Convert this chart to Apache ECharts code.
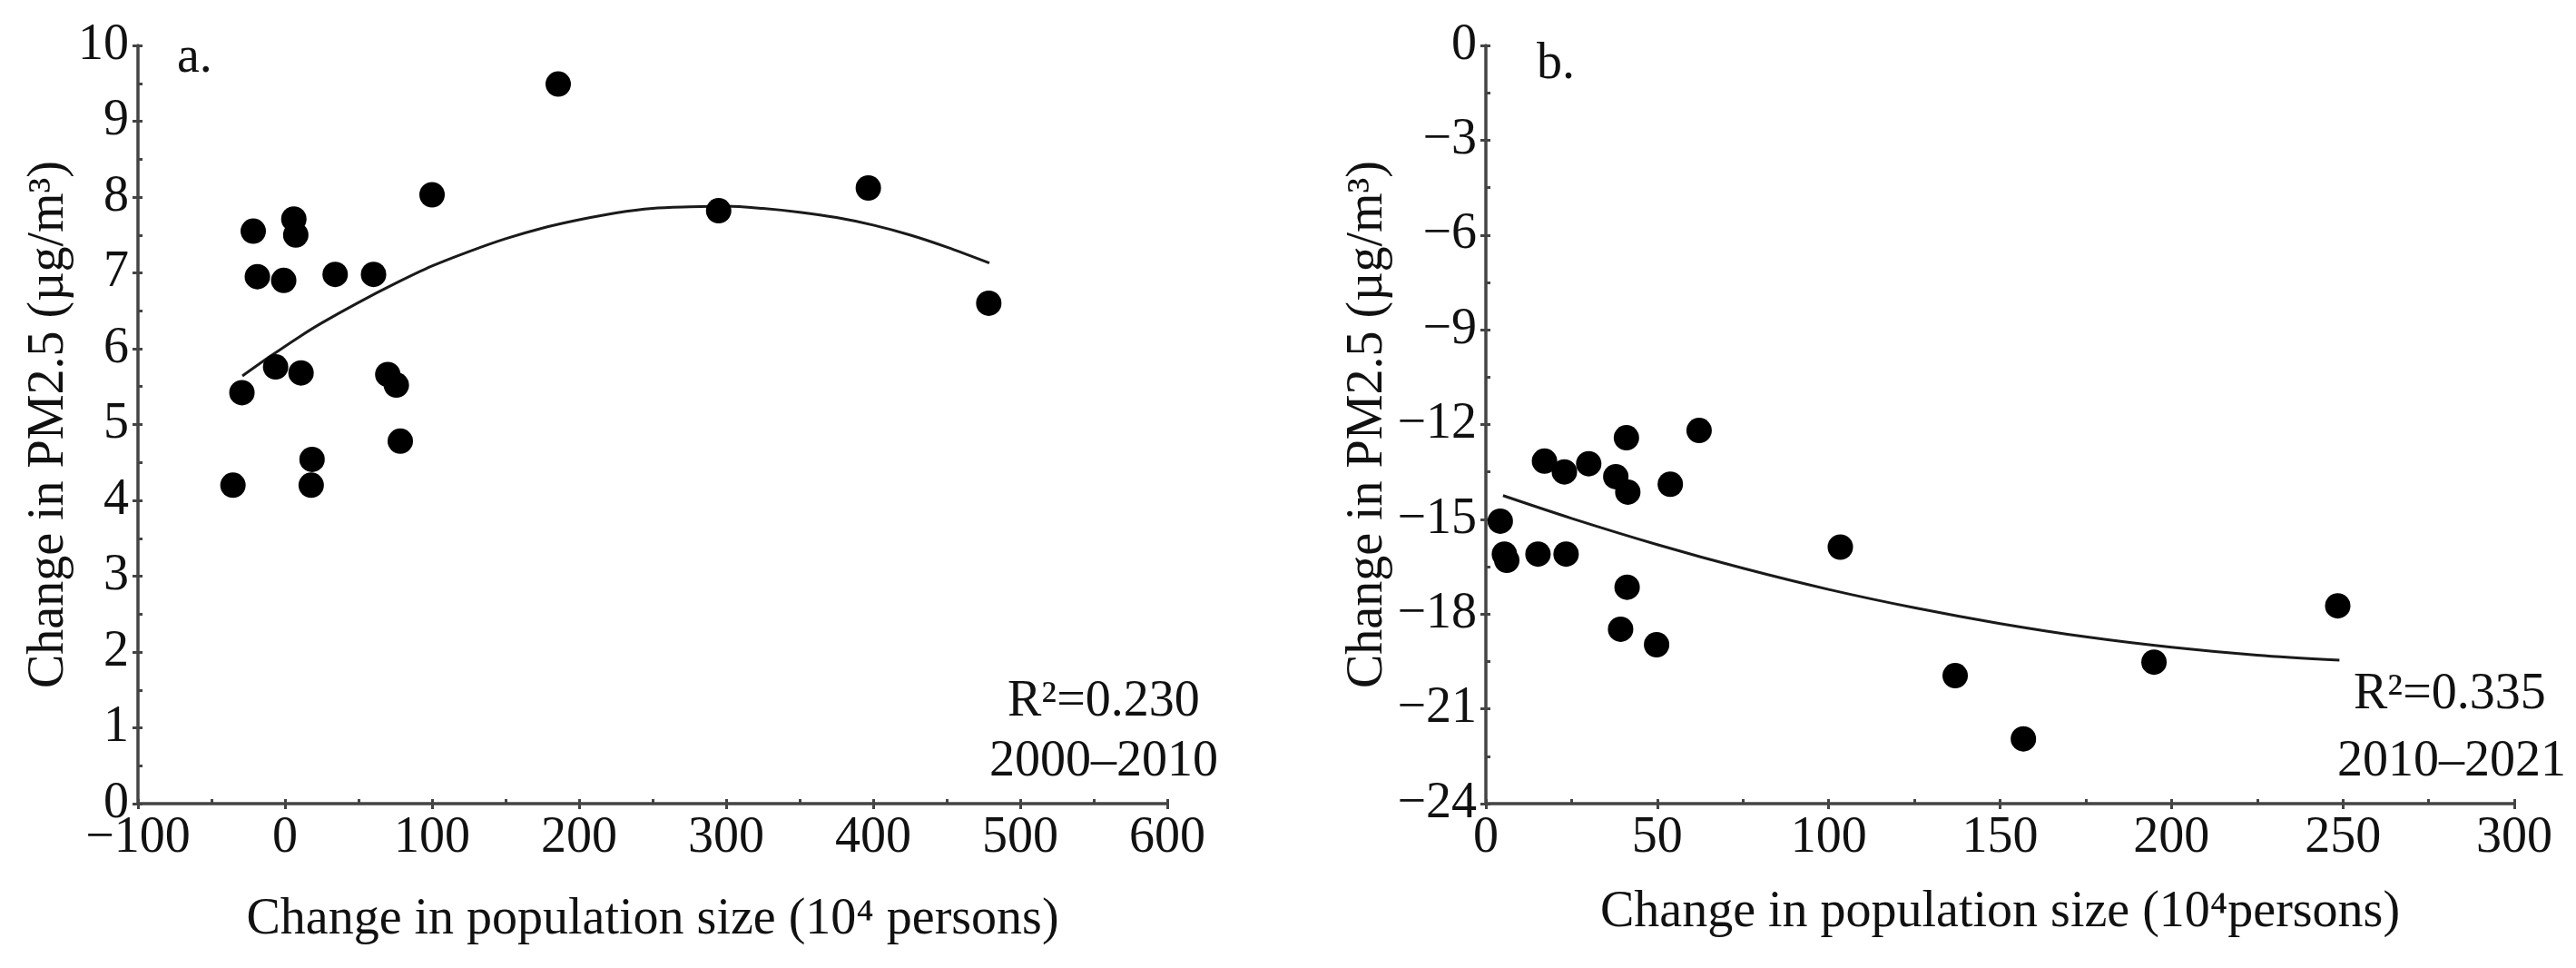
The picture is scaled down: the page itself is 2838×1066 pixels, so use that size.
<!DOCTYPE html>
<html>
<head>
<meta charset="utf-8">
<script src="https://cdn.jsdelivr.net/npm/echarts@6/dist/echarts.min.js"></script>
<style>
  body { margin: 0; background: #fff; }
  #chart { width: 2838px; height: 1066px; }
</style>
</head>
<body>
<div id="chart"></div>
<script>
// Panel a: 2000-2010
const popA = [185.8, 100, -21.6, 6, 7.3, -18.8, -0.9, 34.1, 60.2, -6.4, 10.9, 69.9, 75.7, -29.3, 78.4, 18.4, 17.8, -35.4, 294.9, 396.7, 478.6];
const pmA = [9.49, 8.03, 7.55, 7.71, 7.50, 6.95, 6.90, 6.98, 6.98, 5.76, 5.68, 5.66, 5.52, 5.42, 4.78, 4.54, 4.20, 4.20, 7.82, 8.12, 6.60];
// fitted curve
const fitAx = [-29, -10, 10, 25, 50, 75, 100, 125, 150, 175, 200, 225, 250, 275, 300, 325, 350, 375, 400, 425, 450, 479];
const fitAy = [5.64, 5.90, 6.16, 6.34, 6.61, 6.86, 7.09, 7.28, 7.45, 7.59, 7.70, 7.79, 7.85, 7.87, 7.88, 7.85, 7.80, 7.73, 7.63, 7.50, 7.34, 7.13];

// Panel b: 2010-2021
const popB = [4.2, 5.4, 6.1, 15.2, 17.1, 22.9, 23.4, 30, 37.9, 41, 41.4, 41.2, 39.3, 49.8, 53.8, 62.2, 103.4, 136.9, 156.8, 194.9, 248.5];
const pmB = [-15.06, -16.1, -16.3, -16.1, -13.16, -13.5, -16.1, -13.24, -13.65, -12.42, -14.14, -17.15, -18.48, -18.97, -13.89, -12.19, -15.88, -19.95, -21.95, -19.52, -17.74];
const fitBx = [5, 25, 50, 75, 100, 125, 150, 175, 200, 225, 249];
const fitBy = [-14.25, -14.97, -15.8, -16.55, -17.22, -17.8, -18.3, -18.72, -19.05, -19.3, -19.46];

const notesA = ['R²=0.230', '2000–2010'];
const notesB = ['R²=0.335', '2010–2021'];

const FONT = '"Liberation Serif", "Times New Roman", "DejaVu Serif", serif';
const AXIS_COLOR = '#444';

const zip = (xs, ys) => xs.map((x, i) => [x, ys[i]]);
const minus = v => String(v).replace('-', '−');

// main axis: line, labels, outward major ticks
function mainAxis(dim, gridIndex, min, max, interval, name, nameGap) {
    return {
        type: 'value',
        gridIndex,
        position: dim === 'x' ? 'bottom' : 'left',
        min, max, interval,
        name,
        nameLocation: 'middle',
        nameGap,
        nameRotate: dim === 'x' ? 0 : 90,
        nameTextStyle: { fontFamily: FONT, fontSize: 56, color: '#111' },
        axisLine: { show: true, onZero: false, lineStyle: { color: AXIS_COLOR, width: 3.5 } },
        axisTick: { show: true, inside: false, length: 6, lineStyle: { color: AXIS_COLOR, width: 3 } },
        axisLabel: { fontFamily: FONT, fontSize: 56, color: '#111', margin: 10, formatter: minus },
        splitLine: { show: false }
    };
}

// helper axis: only the small inward ticks at half steps
function minorAxis(dim, gridIndex, min, max, interval) {
    return {
        type: 'value',
        gridIndex,
        position: dim === 'x' ? 'bottom' : 'left',
        min, max, interval,
        axisLine: { show: false, onZero: false },
        axisTick: { show: true, inside: true, length: 5, lineStyle: { color: AXIS_COLOR, width: 3 } },
        axisLabel: { show: false },
        splitLine: { show: false }
    };
}

const chart = echarts.init(document.getElementById('chart'));

const option = {
    backgroundColor: '#fff',
    animation: false,
    grid: [
        { left: 152, top: 50, width: 1134, height: 835 },
        { left: 1637, top: 50, width: 1133, height: 835 }
    ],
    xAxis: [
        mainAxis('x', 0, -100, 600, 100, 'Change in population size (10⁴ persons)', 100),
        minorAxis('x', 0, -100, 600, 50),
        mainAxis('x', 1, 0, 300, 50, 'Change in population size (10⁴persons)', 92),
        minorAxis('x', 1, 0, 300, 25)
    ],
    yAxis: [
        mainAxis('y', 0, 0, 10, 1, 'Change in PM2.5 (µg/m³)', 66),
        minorAxis('y', 0, 0, 10, 0.5),
        mainAxis('y', 1, -24, 0, 3, 'Change in PM2.5 (µg/m³)', 90),
        minorAxis('y', 1, -24, 0, 1.5)
    ],
    series: [
        {
            type: 'line', xAxisIndex: 0, yAxisIndex: 0,
            data: zip(fitAx, fitAy), smooth: 0.3, showSymbol: false,
            lineStyle: { color: '#1a1a1a', width: 3 }, z: 2
        },
        {
            type: 'scatter', xAxisIndex: 0, yAxisIndex: 0,
            data: zip(popA, pmA), symbolSize: 28,
            itemStyle: { color: '#000', opacity: 1 }, z: 3
        },
        {
            type: 'line', xAxisIndex: 2, yAxisIndex: 2,
            data: zip(fitBx, fitBy), smooth: 0.3, showSymbol: false,
            lineStyle: { color: '#1a1a1a', width: 3 }, z: 2
        },
        {
            type: 'scatter', xAxisIndex: 2, yAxisIndex: 2,
            data: zip(popB, pmB), symbolSize: 28,
            itemStyle: { color: '#000', opacity: 1 }, z: 3
        }
    ],
    graphic: [
        { type: 'text', left: 195, top: 36, style: { text: 'a.', font: '56px ' + FONT, fill: '#111' } },
        { type: 'text', left: 1693, top: 43, style: { text: 'b.', font: '56px ' + FONT, fill: '#111' } },
        { type: 'text', left: 1110, top: 745, style: { text: notesA[0], font: '56px ' + FONT, fill: '#111' } },
        { type: 'text', left: 1090, top: 811, style: { text: notesA[1], font: '56px ' + FONT, fill: '#111' } },
        { type: 'text', left: 2593, top: 737, style: { text: notesB[0], font: '56px ' + FONT, fill: '#111' } },
        { type: 'text', left: 2575, top: 811, style: { text: notesB[1], font: '56px ' + FONT, fill: '#111' } }
    ]
};

chart.setOption(option);
</script>
</body>
</html>
